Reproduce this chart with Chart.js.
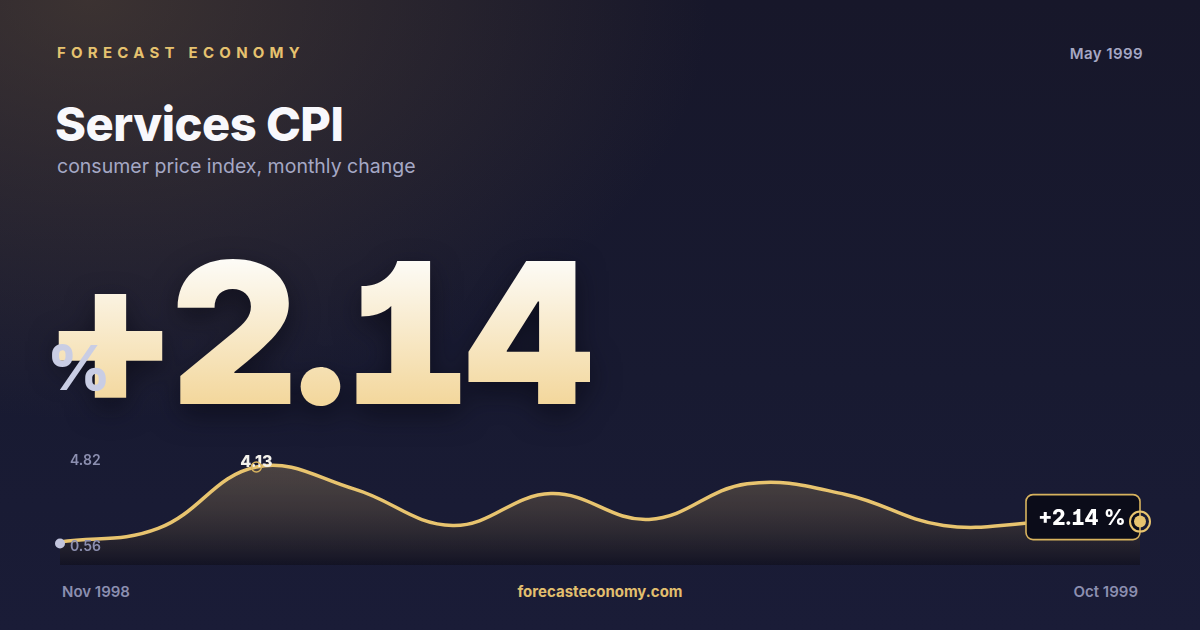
<!DOCTYPE html>
<html lang="en">
<head>
  <meta charset="UTF-8">
  <title>Services CPI</title>
  <script src="https://cdn.jsdelivr.net/npm/chart.js"></script>
  <style>
    html, body { margin: 0; padding: 0; }
    body {
      width: 1200px; height: 630px; overflow: hidden; position: relative;
      font-family: Inter, "Noto Sans", sans-serif;
      background:
        radial-gradient(ellipse 620px 420px at 90px 0px, rgba(110, 88, 60, 0.42), rgba(110, 88, 60, 0) 100%),
        linear-gradient(180deg, #17172a 0%, #181a31 60%, #1a1c37 100%);
    }
    .abs { position: absolute; white-space: nowrap; }
    #brand { left: 57px; top: 43px; font-size: 15px; font-weight: 700; letter-spacing: 5.25px; color: #e6c26f; }
    #date { right: 57px; top: 44px; font-size: 15px; font-weight: 600; letter-spacing: 0.4px; color: #a6a8c4; }
    #title { left: 55px; top: 95px; font-size: 47px; font-weight: 800; color: #f8f8fc; letter-spacing: -0.5px; }
    #sub { left: 57px; top: 154px; font-size: 19.5px; font-weight: 400; color: #a5a8c5; }
    .num { font-feature-settings: "tnum" 1, "cv01" 1; font-variant-numeric: tabular-nums; }
    #big {
      left: 47px; top: 215px; font-size: 197px; font-weight: 900;
      letter-spacing: -3.5px; line-height: 1.2;
      background: linear-gradient(180deg, #fdfcf8 18%, #f3d79c 80%);
      -webkit-background-clip: text; background-clip: text; color: transparent;
      filter: drop-shadow(0 10px 14px rgba(5, 5, 15, 0.55));
    }
    #pct { left: 47px; top: 330px; font-size: 62px; font-weight: 800; color: #c9cde4; }
    #chartBox { position: absolute; left: 40px; top: 430px; width: 1120px; height: 150px; }
    #tagText { position: absolute; font-size: 21px; font-weight: 800; color: #ffffff; line-height: 1; white-space: nowrap; transform: translate(-50%, -50%); }
    #xl { left: 62px; top: 582px; font-size: 15px; font-weight: 600; color: #8c8fb0; }
    #xr { right: 62px; top: 582px; font-size: 15px; font-weight: 600; color: #8c8fb0; }
    #site { left: 0; width: 1200px; text-align: center; top: 582px; font-size: 15px; font-weight: 700; color: #e2bf6e; }
  </style>
</head>
<body>
  <div class="abs" id="brand">FORECAST ECONOMY</div>
  <div class="abs" id="date">May 1999</div>
  <div class="abs" id="title">Services CPI</div>
  <div class="abs" id="sub">consumer price index, monthly change</div>
  <div class="abs num" id="big">+2.14</div>
  <div class="abs" id="pct">%</div>
  <div id="chartBox"><canvas id="chart"></canvas><div id="tagText" class="num"></div></div>
  <div class="abs" id="xl">Nov 1998</div>
  <div class="abs" id="site">forecasteconomy.com</div>
  <div class="abs" id="xr">Oct 1999</div>

  <script>
    // data
    const months = ['Nov 1998', 'Dec 1998', 'Jan 1999', 'Feb 1999', 'Mar 1999', 'Apr 1999',
                    'May 1999', 'Jun 1999', 'Jul 1999', 'Aug 1999', 'Sep 1999', 'Oct 1999'];
    const cpiChange = [1.40, 1.89, 4.13, 3.32, 2.00, 3.16, 2.22, 3.52, 3.13, 2.00, 2.11, 2.14];
    const yTicks = [0.56, 4.82];

    const gold = '#e8c46f';

    // markers, value labels and y labels
    const overlay = {
      id: 'overlay',
      afterDatasetsDraw(chart) {
        const ctx = chart.ctx;
        const pts = chart.getDatasetMeta(0).data;
        const area = chart.chartArea;
        const y = chart.scales.y;
        ctx.save();

        // y labels
        ctx.font = '600 14px Inter';
        ctx.fillStyle = '#8c8fb0';
        ctx.textAlign = 'left';
        ctx.textBaseline = 'middle';
        ctx.fillText(yTicks[1].toFixed(2), area.left + 10, y.getPixelForValue(yTicks[1]) + 13);
        ctx.fillText(yTicks[0].toFixed(2), area.left + 10, y.getPixelForValue(yTicks[0]) - 18);

        // first point
        const p0 = pts[0];
        ctx.fillStyle = '#c2c5dd';
        ctx.beginPath(); ctx.arc(p0.x, p0.y + 1.5, 5, 0, Math.PI * 2); ctx.fill();

        // peak
        const iMax = cpiChange.indexOf(Math.max(...cpiChange));
        const pk = pts[iMax];
        ctx.font = '800 16px Inter';
        ctx.fillStyle = '#f4f2ec';
        ctx.textAlign = 'center';
        ctx.fillText(cpiChange[iMax].toFixed(2), pk.x, pk.y - 5);
        ctx.strokeStyle = '#d9b45f';
        ctx.lineWidth = 1.5;
        ctx.beginPath(); ctx.arc(pk.x, pk.y, 5, 0, Math.PI * 2); ctx.stroke();

        // last value tag
        const last = pts[pts.length - 1];
        const bw = 114, bh = 45;
        const bx = last.x - bw, by = last.y - 27;
        ctx.fillStyle = '#0b0c19';
        ctx.strokeStyle = '#d8b35e';
        ctx.lineWidth = 1.6;
        ctx.beginPath(); ctx.roundRect(bx, by, bw, bh, 7); ctx.fill(); ctx.stroke();
        const tag = document.getElementById('tagText');
        tag.textContent = '+' + cpiChange[cpiChange.length - 1].toFixed(2) + ' %';
        tag.style.left = (bx + bw / 2 - 1) + 'px';
        tag.style.top = (by + bh / 2) + 'px';

        ctx.strokeStyle = gold;
        ctx.lineWidth = 2;
        ctx.beginPath(); ctx.arc(last.x, last.y, 10, 0, Math.PI * 2); ctx.stroke();
        ctx.fillStyle = gold;
        ctx.beginPath(); ctx.arc(last.x, last.y, 6, 0, Math.PI * 2); ctx.fill();
        ctx.restore();
      }
    };

    new Chart(document.getElementById('chart'), {
      type: 'line',
      data: {
        labels: months,
        datasets: [{
          data: cpiChange,
          borderColor: gold,
          borderWidth: 3.5,
          tension: 0.4,
          pointRadius: 0,
          fill: 'start',
          backgroundColor(c) {
            const a = c.chart.chartArea;
            if (!a) return 'rgba(0,0,0,0)';
            const g = c.chart.ctx.createLinearGradient(0, a.top, 0, a.bottom);
            g.addColorStop(0, 'rgba(232, 194, 120, 0.26)');
            g.addColorStop(1, 'rgba(12, 10, 16, 0.45)');
            return g;
          }
        }]
      },
      options: {
        responsive: true,
        maintainAspectRatio: false,
        animation: false,
        layout: { padding: { left: 20, right: 20, top: 18, bottom: 15 } },
        plugins: { legend: { display: false }, tooltip: { enabled: false } },
        scales: {
          x: { display: false },
          y: { display: false, min: yTicks[0], max: yTicks[1] }
        }
      },
      plugins: [overlay]
    });
  </script>
</body>
</html>
